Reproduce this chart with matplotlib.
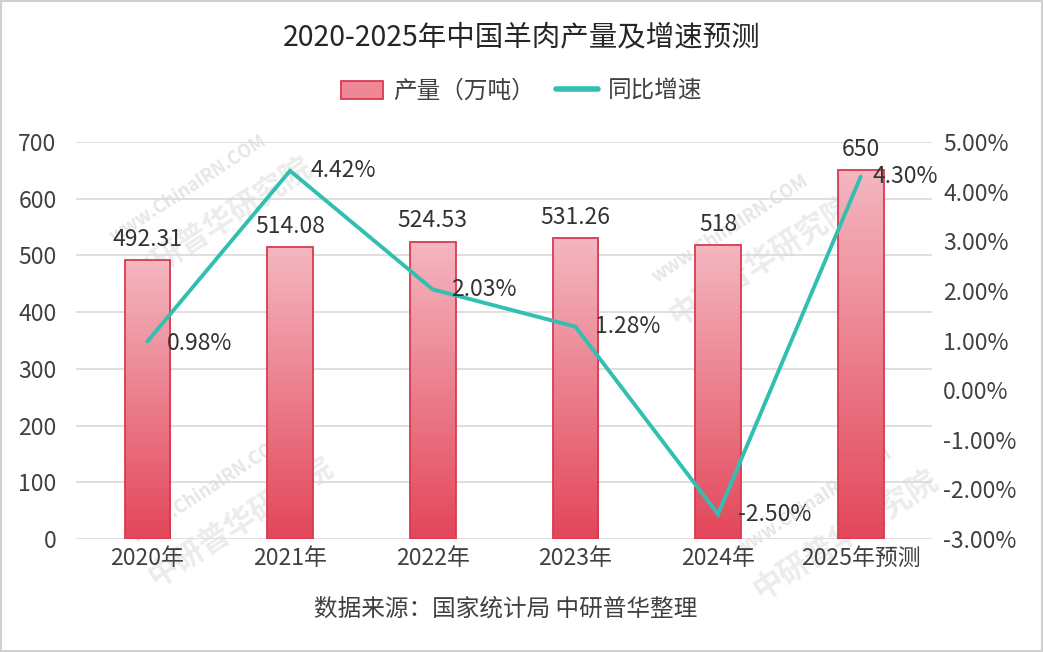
import matplotlib
matplotlib.use("Agg")
import matplotlib.pyplot as plt
import numpy as np
from matplotlib.colors import LinearSegmentedColormap
from matplotlib.patches import Rectangle
from matplotlib.lines import Line2D

plt.rcParams['font.family'] = ['Noto Sans CJK SC', 'DejaVu Sans']

categories = ["2020年", "2021年", "2022年", "2023年", "2024年", "2025年预测"]
production = [492.31, 514.08, 524.53, 531.26, 518, 650]
prod_labels = ["492.31", "514.08", "524.53", "531.26", "518", "650"]
growth = [0.98, 4.42, 2.03, 1.28, -2.50, 4.30]
left_ticks = [0, 100, 200, 300, 400, 500, 600, 700]
right_ticks = [-3, -2, -1, 0, 1, 2, 3, 4, 5]

fig = plt.figure(figsize=(10.43, 6.52), dpi=100)

# faint watermarks
for (wx, wy) in [(0.18, 0.68), (0.70, 0.62), (0.20, 0.22), (0.78, 0.20)]:
    fig.text(wx, wy + 0.03, "www.ChinaIRN.COM", rotation=33, fontsize=13, fontweight='bold',
             color='#e6e6e6', ha='center', va='center', zorder=0)
    fig.text(wx + 0.03, wy - 0.02, "中研普华研究院", rotation=33, fontsize=22, fontweight='bold',
             color='#ececec', ha='center', va='center', zorder=0)

ax = fig.add_axes([0.0729, 0.1733, 0.8207, 0.6089])
ax2 = ax.twinx()
ax.set_zorder(1); ax.patch.set_visible(False)
ax2.set_zorder(2)

x = np.arange(len(categories))
ax.set_ylim(0, 700)
ax.set_yticks(left_ticks)
ax.grid(axis='y', color='#d9d9d9', linewidth=1.2)
ax.set_axisbelow(True)
for s in ax.spines.values():
    s.set_visible(False)
for s in ax2.spines.values():
    s.set_visible(False)
ax.tick_params(axis='both', length=0, labelsize=16.5, colors='#404040', pad=6)
ax.tick_params(axis='y', pad=14)
ax.set_xticks(x)
ax.set_xticklabels(categories)

cmap = LinearSegmentedColormap.from_list('bar', ['#e3465a', '#f4b7c0'])
grad = np.linspace(0, 1, 256).reshape(-1, 1)
bw = 0.32
bars = ax.bar(x, production, width=bw, color='none', edgecolor='#d93a50', linewidth=1.3, zorder=3)
for b, lab in zip(bars, prod_labels):
    x0, y0, w, h = b.get_x(), b.get_y(), b.get_width(), b.get_height()
    im = ax.imshow(grad, extent=[x0, x0 + w, y0, y0 + h], origin='lower', cmap=cmap,
                   aspect='auto', zorder=2)
    im.set_clip_path(b)
    ax.text(x0 + w / 2, h + 16, lab, ha='center', va='bottom', fontsize=16.5, color='#333333', zorder=5)
ax.set_aspect('auto')
ax.set_xlim(-0.5, len(categories) - 0.5)
ax.set_ylim(0, 700)

ax2.set_ylim(-3, 5)
ax2.set_yticks(right_ticks)
ax2.set_yticklabels([f"{v:.2f}%" for v in right_ticks])
ax2.tick_params(axis='y', length=0, labelsize=16.5, colors='#404040', pad=8)
ax2.plot(x, growth, color='#32bfb1', linewidth=2.8, solid_capstyle='round', solid_joinstyle='miter', zorder=4)
offsets = [(0.14, -0.05), (0.14, 0.0), (0.13, 0.0), (0.14, 0.0), (0.14, 0.0), (0.08, 0.0)]
for xi, g, (dx, dy) in zip(x, growth, offsets):
    ax2.text(xi + dx, g + dy, f"{g:.2f}%", ha='left', va='center', fontsize=16.5, color='#333333', zorder=6)

fig.text(0.5, 0.943, "2020-2025年中国羊肉产量及增速预测", ha='center', va='center',
         fontsize=20.5, fontweight='medium', color='#262626')
fig.text(0.485, 0.066, "数据来源：国家统计局 中研普华整理", ha='center', va='center',
         fontsize=17, color='#404040')

handles = [Rectangle((0, 0), 1, 1, facecolor='#ee8896', edgecolor='#d93a50', linewidth=1.3),
           Line2D([0], [0], color='#32bfb1', linewidth=4, solid_capstyle='round')]
fig.legend(handles, ["产量（万吨）", "同比增速"], loc='center', bbox_to_anchor=(0.5, 0.860),
           ncol=2, frameon=False, fontsize=17, labelcolor='#404040', handlelength=1.8,
           handleheight=0.8, columnspacing=0.9, handletextpad=0.4)

fig.patches.append(Rectangle((0.001, 0.002), 0.998, 0.996, transform=fig.transFigure,
                             fill=False, edgecolor='#d0d0d0', linewidth=1.5))

fig.savefig("out.png", dpi=100)
